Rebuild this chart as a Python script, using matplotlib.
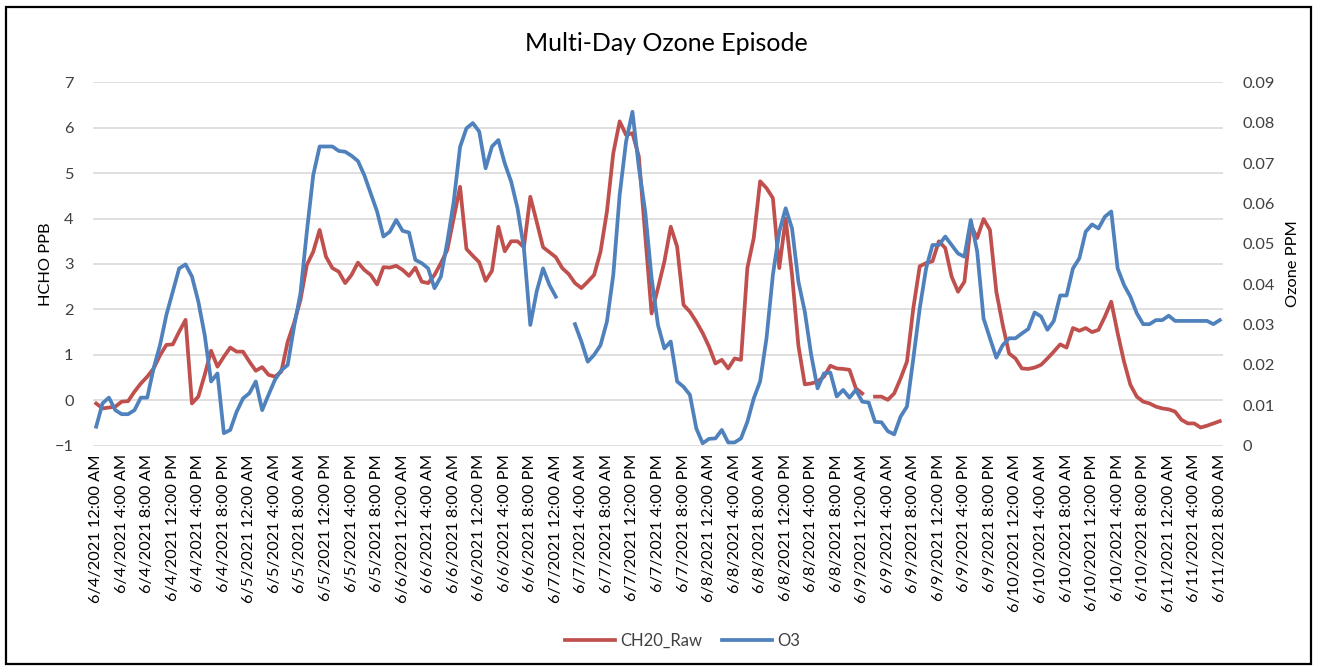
import numpy as np
import matplotlib.pyplot as plt
from matplotlib.patches import Rectangle

nan = np.nan

# hourly readings, 6/4/2021 12:00 AM through 6/11/2021 8:00 AM
ch2o_raw = [
    -0.07, -0.18, -0.16, -0.14, -0.03, -0.02, 0.19, 0.37, 0.52, 0.70,
    0.99, 1.22, 1.23, 1.51, 1.77, -0.07, 0.08, 0.56, 1.09, 0.74,
    0.96, 1.16, 1.07, 1.07, 0.85, 0.65, 0.73, 0.56, 0.52, 0.63,
    1.29, 1.70, 2.21, 2.98, 3.27, 3.75, 3.16, 2.91, 2.83, 2.58,
    2.76, 3.03, 2.87, 2.76, 2.55, 2.93, 2.92, 2.96, 2.87, 2.74,
    2.92, 2.61, 2.58, 2.76, 3.02, 3.31, 4.00, 4.70, 3.33, 3.18,
    3.04, 2.63, 2.85, 3.82, 3.28, 3.50, 3.50, 3.37, 4.48, 3.93,
    3.37, 3.26, 3.15, 2.91, 2.78, 2.58, 2.47, 2.61, 2.76, 3.27,
    4.15, 5.44, 6.14, 5.84, 5.88, 5.37, 3.65, 1.91, 2.47, 3.05,
    3.82, 3.38, 2.10, 1.95, 1.73, 1.48, 1.18, 0.81, 0.89, 0.70,
    0.92, 0.89, 2.91, 3.57, 4.82, 4.67, 4.45, 2.91, 4.00, 2.76,
    1.20, 0.35, 0.37, 0.41, 0.52, 0.76, 0.70, 0.69, 0.67, 0.26,
    0.15, nan, 0.08, 0.08, 0.01, 0.15, 0.48, 0.85, 2.03, 2.95,
    3.02, 3.06, 3.50, 3.35, 2.72, 2.39, 2.61, 3.86, 3.57, 3.99,
    3.75, 2.39, 1.66, 1.03, 0.92, 0.70, 0.69, 0.72, 0.78, 0.92,
    1.07, 1.23, 1.16, 1.59, 1.53, 1.59, 1.50, 1.55, 1.84, 2.17,
    1.48, 0.85, 0.34, 0.08, -0.03, -0.07, -0.14, -0.18, -0.20, -0.25,
    -0.43, -0.51, -0.51, -0.60, -0.56, -0.51, -0.46,
]

o3 = [
    0.0047, 0.0105, 0.0119, 0.0088, 0.0078, 0.0078, 0.0088, 0.0119, 0.0119, 0.0192,
    0.0249, 0.0324, 0.0382, 0.0439, 0.0449, 0.0419, 0.0357, 0.0274, 0.0159, 0.0179,
    0.0031, 0.0039, 0.0084, 0.0117, 0.0130, 0.0159, 0.0088, 0.0126, 0.0163, 0.0187,
    0.0200, 0.0295, 0.0377, 0.0530, 0.0670, 0.0741, 0.0741, 0.0741, 0.0730, 0.0728,
    0.0718, 0.0705, 0.0670, 0.0625, 0.0580, 0.0518, 0.0530, 0.0559, 0.0532, 0.0528,
    0.0460, 0.0452, 0.0439, 0.0390, 0.0419, 0.0505, 0.0604, 0.0740, 0.0786, 0.0799,
    0.0778, 0.0687, 0.0741, 0.0757, 0.0699, 0.0654, 0.0588, 0.0489, 0.0299, 0.0382,
    0.0439, 0.0398, 0.0369, nan, nan, 0.0301, 0.0258, 0.0208, 0.0225, 0.0249,
    0.0307, 0.0423, 0.0621, 0.0753, 0.0827, 0.0690, 0.0580, 0.0415, 0.0299, 0.0241,
    0.0258, 0.0159, 0.0146, 0.0126, 0.0043, 0.0006, 0.0017, 0.0018, 0.0039, 0.0008,
    0.0008, 0.0018, 0.0059, 0.0117, 0.0159, 0.0266, 0.0423, 0.0530, 0.0588, 0.0538,
    0.0406, 0.0332, 0.0225, 0.0142, 0.0179, 0.0181, 0.0122, 0.0138, 0.0119, 0.0138,
    0.0109, 0.0107, 0.0059, 0.0058, 0.0036, 0.0028, 0.0072, 0.0097, 0.0216, 0.0340,
    0.0439, 0.0497, 0.0497, 0.0518, 0.0497, 0.0476, 0.0468, 0.0559, 0.0481, 0.0315,
    0.0266, 0.0218, 0.0249, 0.0266, 0.0266, 0.0278, 0.0289, 0.0330, 0.0320, 0.0287,
    0.0309, 0.0372, 0.0372, 0.0439, 0.0464, 0.0530, 0.0548, 0.0538, 0.0567, 0.0580,
    0.0439, 0.0398, 0.0369, 0.0328, 0.0301, 0.0301, 0.0311, 0.0311, 0.0322, 0.0309,
    0.0309, 0.0309, 0.0309, 0.0309, 0.0309, 0.0301, 0.0311,
]

days = ["6/4", "6/5", "6/6", "6/7", "6/8", "6/9", "6/10", "6/11"]
hours = ["12:00 AM", "4:00 AM", "8:00 AM", "12:00 PM", "4:00 PM", "8:00 PM"]
tick_labels = [f"{d}/2021 {h}" for d in days for h in hours][:45]

plt.rcParams["font.family"] = ["Lato", "DejaVu Sans"]

RED = "#C0504D"
BLUE = "#4F81BD"
TXT = "#404040"

fig = plt.figure(figsize=(13.17, 6.69), dpi=100)
ax1 = fig.add_axes([0.0706, 0.3338, 0.858, 0.5432])
ax2 = ax1.twinx()

x = np.arange(len(ch2o_raw))
l1, = ax1.plot(x, ch2o_raw, color=RED, linewidth=2.7, label="CH20_Raw")
l2, = ax2.plot(x, o3, color=BLUE, linewidth=2.7, label="O3")

ax1.set_xlim(-0.5, len(x) - 0.5)
ax1.set_ylim(-1, 7)
ax2.set_ylim(0, 0.09)
ax1.set_yticks(range(-1, 8))
ax2.set_yticks(np.arange(0, 0.0901, 0.01))
ax2.set_yticklabels(["0"] + [f"{v:.2f}" for v in np.arange(0.01, 0.0901, 0.01)])

ax1.set_xticks(np.arange(0, len(x), 4))
ax1.set_xticklabels(tick_labels, rotation=90, fontsize=11.8, color="black")

ax1.grid(axis="y", color="#D9D9D9", linewidth=1.2)
ax1.set_axisbelow(True)
for a in (ax1, ax2):
    for s in a.spines.values():
        s.set_visible(False)
    a.tick_params(length=0, labelsize=11.8, labelcolor=TXT)
ax1.tick_params(axis="y", pad=14)
ax2.tick_params(axis="y", pad=14)
ax1.tick_params(axis="x", pad=6, labelcolor="black")

ax1.set_ylabel("HCHO PPB", fontsize=11.8, color="black", labelpad=1)
ax2.set_ylabel("Ozone PPM", fontsize=11.8, color="black", labelpad=8)

fig.text(0.506, 0.935, "Multi-Day Ozone Episode", ha="center", va="center",
         fontsize=18, color="black")

fig.legend([l1, l2], ["CH20_Raw", "O3"], loc="center", bbox_to_anchor=(0.518, 0.042),
           ncol=2, frameon=False, fontsize=12, handlelength=3.0, columnspacing=1.2,
           handletextpad=0.3, labelcolor=TXT)

fig.patches.append(Rectangle((6 / 1317, 5 / 669), 1305 / 1317, 657 / 669,
                             transform=fig.transFigure, fill=False,
                             edgecolor="black", linewidth=1.6))

fig.savefig("out.png", dpi=100)
plt.close(fig)
